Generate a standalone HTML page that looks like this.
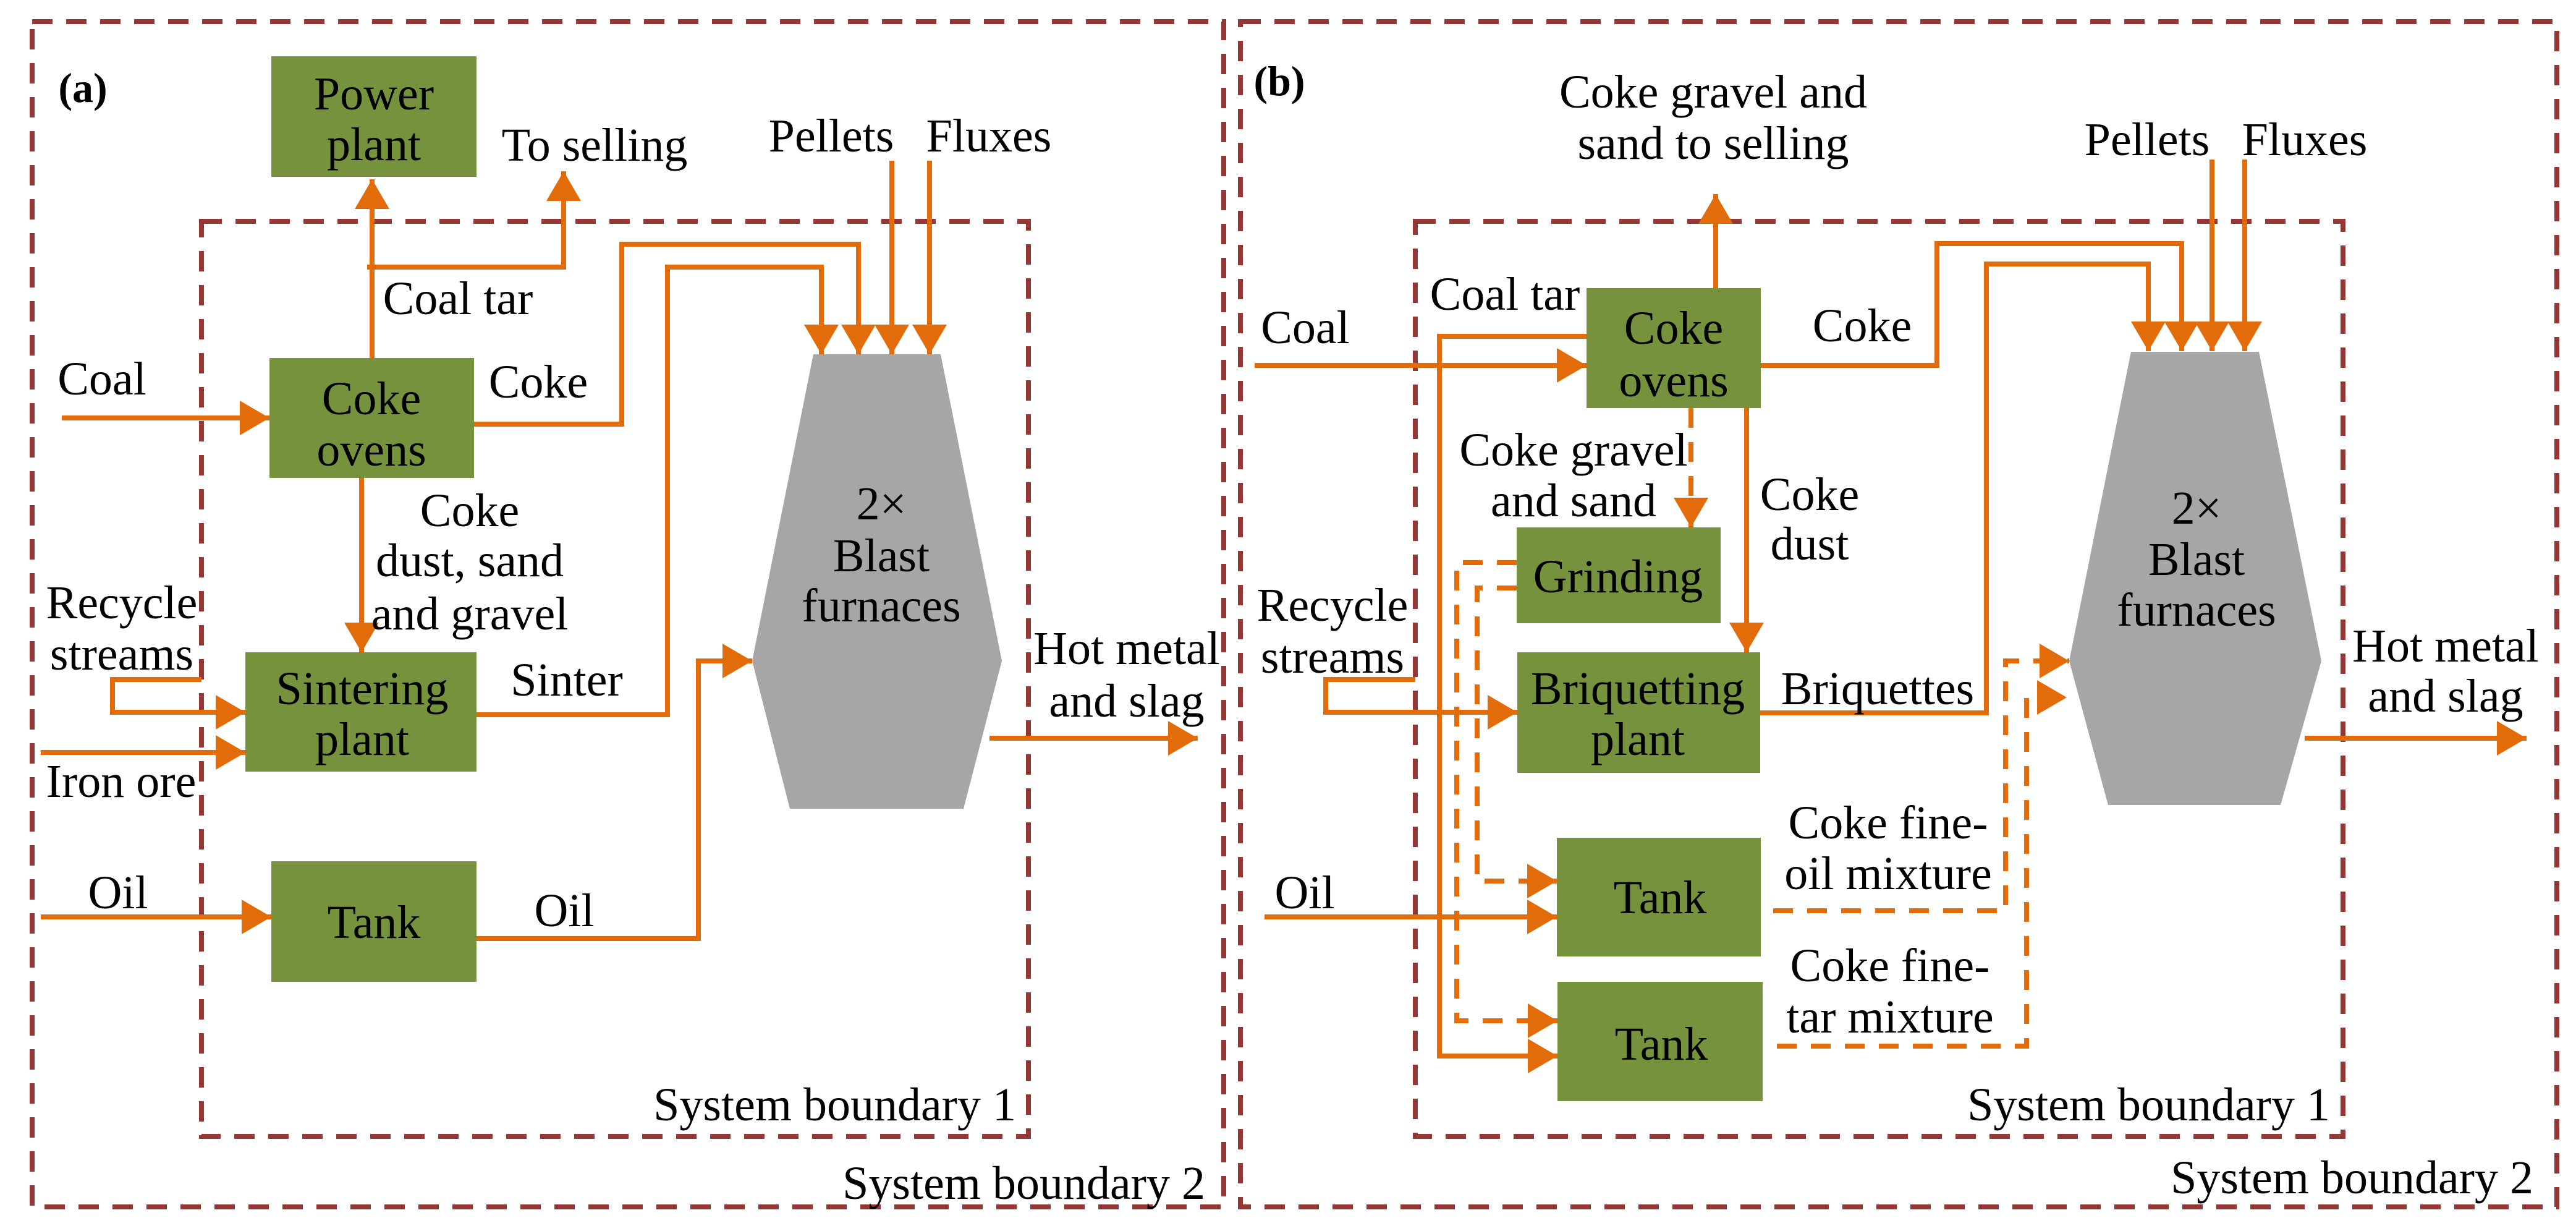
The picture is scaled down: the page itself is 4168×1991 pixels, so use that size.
<!DOCTYPE html>
<html><head><meta charset="utf-8"><style>
html,body{margin:0;padding:0;background:#fff;}
#w{position:relative;width:4168px;height:1991px;overflow:hidden;}
svg{display:block;position:absolute;left:0;top:0;}
.t{position:absolute;transform:translate(-50%,-50%);white-space:nowrap;font-family:"Liberation Serif","Times New Roman",serif;font-size:76px;line-height:1;color:#000;}
.r{transform:translate(-100%,-50%);}
.b{font-weight:bold;font-size:68px;}
</style></head><body>
<div id="w">
<svg width="4168" height="1991" viewBox="0 0 4168 1991" xmlns="http://www.w3.org/2000/svg">
<defs>
<marker id="ar" markerUnits="userSpaceOnUse" markerWidth="50" markerHeight="56" refX="48" refY="28" orient="auto">
<path d="M0,0 L48,28 L0,56 Z" fill="#E36C0A"/>
</marker>
</defs>
<g fill="none" stroke="#953735" stroke-width="8" stroke-dasharray="33,22">
<rect x="52" y="35" width="1928" height="1917"/>
<rect x="2007" y="35" width="2130" height="1917"/>
<rect x="326" y="358" width="1338" height="1480"/>
<rect x="2290" y="358" width="1501" height="1480"/>
</g>
<g fill="#76923C">
<rect x="439" y="91" width="332" height="195"/>
<rect x="436" y="579" width="331" height="194"/>
<rect x="397" y="1055" width="374" height="193"/>
<rect x="439" y="1393" width="332" height="195"/>
<rect x="2567" y="466" width="282" height="194"/>
<rect x="2454" y="853" width="330" height="155"/>
<rect x="2455" y="1055" width="393" height="195"/>
<rect x="2519" y="1355" width="330" height="192"/>
<rect x="2520" y="1588" width="332" height="193"/>
</g>
<g fill="#A6A6A6">
<polygon points="1316,573 1522,573 1621,1069 1559,1308 1278,1308 1217,1069"/>
<polygon points="3448,569 3655,569 3756,1069 3690,1302 3411,1302 3348,1069"/>
</g>
<g fill="none" stroke="#E36C0A" stroke-width="8">
<path d="M100,676 H436" marker-end="url(#ar)"/>
<path d="M602,579 V290" marker-end="url(#ar)"/>
<path d="M594,432 H912 V277" marker-end="url(#ar)"/>
<path d="M767,686 H1006 V395 H1389 V573" marker-end="url(#ar)"/>
<path d="M771,1156 H1080 V432 H1329 V573" marker-end="url(#ar)"/>
<path d="M1443,260 V573" marker-end="url(#ar)"/>
<path d="M1504,260 V573" marker-end="url(#ar)"/>
<path d="M585,773 V1055" marker-end="url(#ar)"/>
<path d="M326,1099 H182 V1152 H397" marker-end="url(#ar)"/>
<path d="M66,1217 H397" marker-end="url(#ar)"/>
<path d="M66,1483 H439" marker-end="url(#ar)"/>
<path d="M771,1518 H1130 V1069 H1217" marker-end="url(#ar)"/>
<path d="M1601,1194 H1938" marker-end="url(#ar)"/>
<path d="M2776,466 V314" marker-end="url(#ar)"/>
<path d="M2030,591 H2567" marker-end="url(#ar)"/>
<path d="M2567,544 H2329 V1708 H2520" marker-end="url(#ar)"/>
<path d="M2849,591 H3134 V394 H3530 V568" marker-end="url(#ar)"/>
<path d="M2848,1153 H3214 V427 H3476 V568" marker-end="url(#ar)"/>
<path d="M3579,258 V568" marker-end="url(#ar)"/>
<path d="M3632,258 V568" marker-end="url(#ar)"/>
<path d="M2826,660 V1055" marker-end="url(#ar)"/>
<path d="M2290,1099 H2145 V1152 H2455" marker-end="url(#ar)"/>
<path d="M2046,1483 H2519" marker-end="url(#ar)"/>
<path d="M3729,1194 H4088" marker-end="url(#ar)"/>
</g>
<g fill="none" stroke="#E36C0A" stroke-width="8" stroke-dasharray="32,23">
<path d="M2736,660 V853" marker-end="url(#ar)"/>
<path d="M2454,910 H2357 V1651 H2520" marker-end="url(#ar)"/>
<path d="M2454,951 H2390 V1425 H2519" marker-end="url(#ar)"/>
<path d="M2869,1473 H3245 V1069 H3348" marker-end="url(#ar)"/>
<path d="M2875,1692 H3279 V1128 H3344" marker-end="url(#ar)"/>
</g>
</svg>

<div class="t b" style="left:134px;top:142px">(a)</div>
<div class="t" style="left:605px;top:152px">Power</div>
<div class="t" style="left:605px;top:234px">plant</div>
<div class="t" style="left:962px;top:235px">To selling</div>
<div class="t" style="left:1345px;top:220px">Pellets</div>
<div class="t" style="left:1600px;top:220px">Fluxes</div>
<div class="t" style="left:741px;top:483px">Coal tar</div>
<div class="t" style="left:165px;top:613px">Coal</div>
<div class="t" style="left:871px;top:618px">Coke</div>
<div class="t" style="left:601px;top:645px">Coke</div>
<div class="t" style="left:601px;top:728px">ovens</div>
<div class="t" style="left:760px;top:826px">Coke</div>
<div class="t" style="left:760px;top:907px">dust, sand</div>
<div class="t" style="left:760px;top:993px">and gravel</div>
<div class="t" style="left:197px;top:975px">Recycle</div>
<div class="t" style="left:197px;top:1058px">streams</div>
<div class="t" style="left:586px;top:1114px">Sintering</div>
<div class="t" style="left:586px;top:1196px">plant</div>
<div class="t" style="left:917px;top:1100px">Sinter</div>
<div class="t" style="left:196px;top:1264px">Iron ore</div>
<div class="t" style="left:191px;top:1444px">Oil</div>
<div class="t" style="left:605px;top:1492px">Tank</div>
<div class="t" style="left:913px;top:1473px">Oil</div>
<div class="t" style="left:1426px;top:815px">2×</div>
<div class="t" style="left:1426px;top:899px">Blast</div>
<div class="t" style="left:1426px;top:980px">furnaces</div>
<div class="t" style="left:1823px;top:1049px">Hot metal</div>
<div class="t" style="left:1823px;top:1134px">and slag</div>
<div class="t r" style="left:1644px;top:1787px">System boundary 1</div>
<div class="t r" style="left:1950px;top:1914px">System boundary 2</div>

<div class="t b" style="left:2070px;top:131px">(b)</div>
<div class="t" style="left:2772px;top:149px">Coke gravel and</div>
<div class="t" style="left:2772px;top:232px">sand to selling</div>
<div class="t" style="left:3474px;top:226px">Pellets</div>
<div class="t" style="left:3729px;top:226px">Fluxes</div>
<div class="t" style="left:2435px;top:476px">Coal tar</div>
<div class="t" style="left:2112px;top:530px">Coal</div>
<div class="t" style="left:3013px;top:527px">Coke</div>
<div class="t" style="left:2708px;top:531px">Coke</div>
<div class="t" style="left:2708px;top:616px">ovens</div>
<div class="t" style="left:2546px;top:728px">Coke gravel</div>
<div class="t" style="left:2546px;top:810px">and sand</div>
<div class="t" style="left:2928px;top:800px">Coke</div>
<div class="t" style="left:2928px;top:880px">dust</div>
<div class="t" style="left:2618px;top:933px">Grinding</div>
<div class="t" style="left:2156px;top:979px">Recycle</div>
<div class="t" style="left:2156px;top:1063px">streams</div>
<div class="t" style="left:2650px;top:1114px">Briquetting</div>
<div class="t" style="left:2650px;top:1196px">plant</div>
<div class="t" style="left:3038px;top:1114px">Briquettes</div>
<div class="t" style="left:2111px;top:1444px">Oil</div>
<div class="t" style="left:2686px;top:1452px">Tank</div>
<div class="t" style="left:2688px;top:1689px">Tank</div>
<div class="t" style="left:3055px;top:1331px">Coke fine-</div>
<div class="t" style="left:3055px;top:1413px">oil mixture</div>
<div class="t" style="left:3058px;top:1562px">Coke fine-</div>
<div class="t" style="left:3058px;top:1645px">tar mixture</div>
<div class="t" style="left:3554px;top:822px">2×</div>
<div class="t" style="left:3554px;top:905px">Blast</div>
<div class="t" style="left:3554px;top:987px">furnaces</div>
<div class="t" style="left:3957px;top:1045px">Hot metal</div>
<div class="t" style="left:3957px;top:1126px">and slag</div>
<div class="t r" style="left:3770px;top:1787px">System boundary 1</div>
<div class="t r" style="left:4099px;top:1905px">System boundary 2</div>
</div>
</body></html>
